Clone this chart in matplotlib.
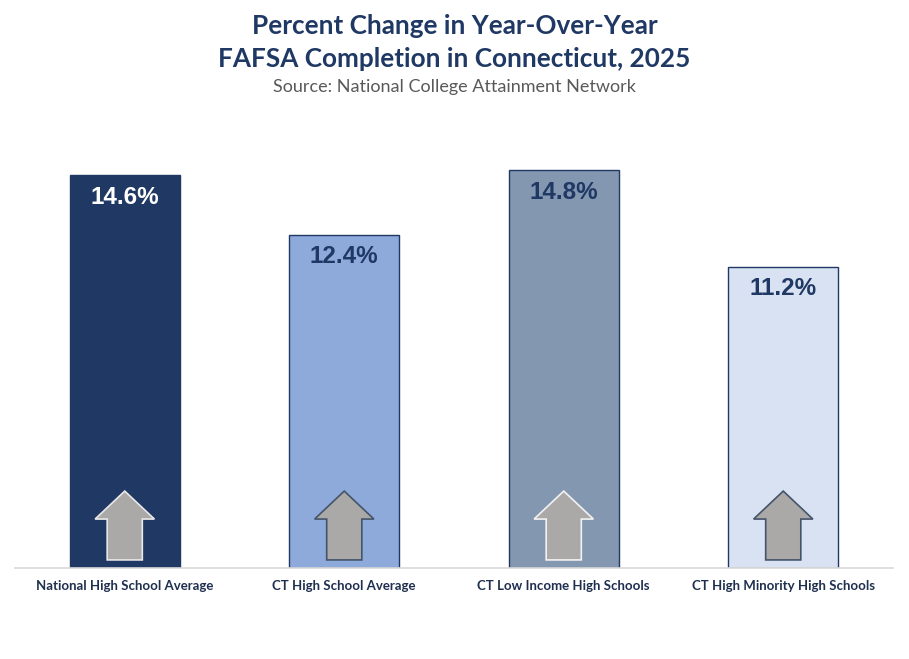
import matplotlib.pyplot as plt
from matplotlib.patches import FancyArrow

categories = ['National High School Average', 'CT High School Average',
              'CT Low Income High Schools', 'CT High Minority High Schools']
values = [14.6, 12.4, 14.8, 11.2]
value_labels = ['14.6%', '12.4%', '14.8%', '11.2%']

NAVY = '#1F3864'
bar_colors = ['#1F3864', '#8EAADB', '#8497B0', '#D9E2F3']
label_colors = ['white', NAVY, NAVY, NAVY]
arrow_edges = ['#E8E8E8', '#44546A', '#F2F2F2', '#44546A']

plt.rcParams['font.family'] = ['Lato', 'DejaVu Sans']

fig = plt.figure(figsize=(9.09, 6.59), dpi=100)
ax = fig.add_axes([15 / 909, 1 - 568 / 659, 878 / 909, 458 / 659])

x = range(len(categories))
ax.bar(x, values, width=0.5, color=bar_colors, edgecolor=NAVY, linewidth=1, zorder=2)
ax.set_xlim(-0.5, 3.5)
ax.set_ylim(0, 17.03)

for i, v in enumerate(values):
    ax.text(i, v - 0.82, value_labels[i], ha='center', va='center',
            fontsize=17.5, fontweight='bold', color=label_colors[i], zorder=3,
            family=['Liberation Sans', 'DejaVu Sans'])
    arr = FancyArrow(i, 0.3, 0, 2.56, width=0.16, head_width=0.27,
                     head_length=1.04, length_includes_head=True,
                     facecolor='#ABA8A8', edgecolor=arrow_edges[i],
                     linewidth=1.2, zorder=3)
    ax.add_patch(arr)

for s in ['top', 'right', 'left']:
    ax.spines[s].set_visible(False)
ax.spines['bottom'].set_color('#D9D9D9')
ax.spines['bottom'].set_linewidth(1.2)
ax.set_yticks([])
ax.set_xticks(list(x))
ax.set_xticklabels(categories, fontsize=9.5, fontweight='bold', color='#1F2F4F')
ax.tick_params(axis='x', length=0, pad=9)

fig.text(0.5, 1 - 26 / 659, 'Percent Change in Year-Over-Year', ha='center', va='center',
         fontsize=18.8, fontweight='bold', color=NAVY)
fig.text(0.5, 1 - 59 / 659, 'FAFSA Completion in Connecticut, 2025', ha='center', va='center',
         fontsize=18.8, fontweight='bold', color=NAVY)
fig.text(0.5, 1 - 87 / 659, 'Source: National College Attainment Network', ha='center',
         va='center', fontsize=13, color='#595959')

fig.savefig('out.png', dpi=100)
